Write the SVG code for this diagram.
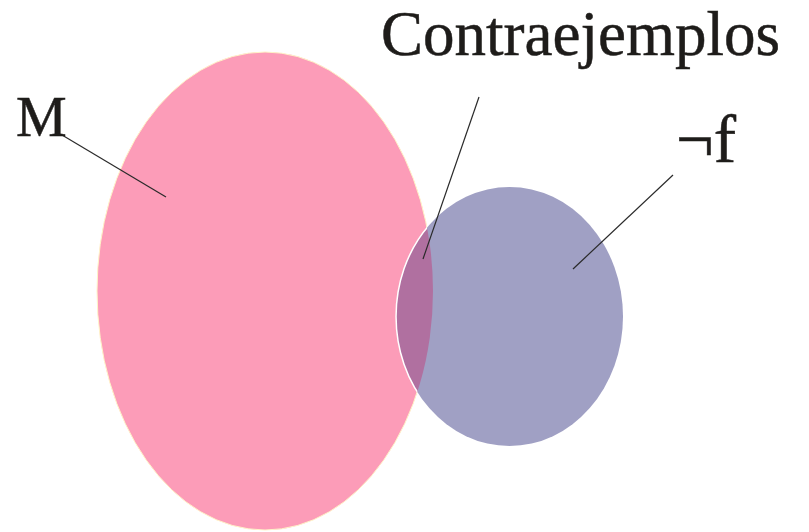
<svg xmlns="http://www.w3.org/2000/svg" width="809" height="532" viewBox="0 0 809 532">
<style>
.lbl{font-family:'Liberation Serif','DejaVu Serif',serif;fill:#1e1c1a;stroke:#1e1c1a;stroke-width:0.5}
.lead{stroke:#2a2a2a;stroke-width:1.2;fill:none}
</style>
<defs>
<clipPath id="clipBlue"><ellipse cx="509.5" cy="316.5" rx="113.5" ry="129.5"/></clipPath>
<clipPath id="clipM"><ellipse cx="265" cy="291" rx="168" ry="239"/></clipPath>
</defs>
<rect width="809" height="532" fill="#fff"/>
<g id="setM">
<ellipse cx="265" cy="291" rx="168" ry="239" fill="#fc9cb8" stroke="#fff4c8" stroke-width="1"/>
</g>
<g id="setNotF">
<ellipse cx="509.5" cy="316.5" rx="113.5" ry="129.5" fill="#a0a0c4"/>
</g>
<g id="overlap">
<ellipse cx="265" cy="291" rx="168" ry="239" fill="#b070a0" clip-path="url(#clipBlue)"/>
<path d="M 509.5 187 A 113.5 129.5 0 0 0 509.5 446" fill="none" stroke="#fff" stroke-width="1.5" clip-path="url(#clipM)"/>
</g>
<g id="connectors">
<line class="lead" x1="62" y1="135" x2="166" y2="197"/>
<line class="lead" x1="479" y1="97" x2="423" y2="259"/>
<line class="lead" x1="673" y1="175" x2="573" y2="269"/>
</g>
<g id="labels">
<text class="lbl" x="16" y="136" font-size="57">M</text>
<text class="lbl" x="381" y="55" font-size="63">Contraejemplos</text>
<text class="lbl" x="676" y="162" font-size="67">¬f</text>
</g>
</svg>
